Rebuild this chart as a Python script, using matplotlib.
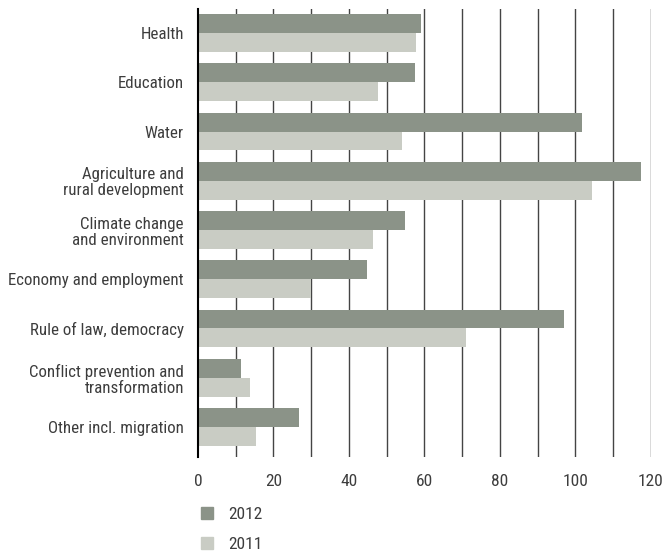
import matplotlib.pyplot as plt
import matplotlib.font_manager as fm
import numpy as np
from matplotlib.patches import Patch

categories = [
    "Health",
    "Education",
    "Water",
    "Agriculture and\nrural development",
    "Climate change\nand environment",
    "Economy and employment",
    "Rule of law, democracy",
    "Conflict prevention and\ntransformation",
    "Other incl. migration",
]
values_2012 = [59.1, 57.5, 101.7, 117.4, 54.8, 44.8, 97.0, 11.4, 26.8]
values_2011 = [57.7, 47.6, 54.0, 104.4, 46.4, 30.0, 71.0, 13.8, 15.4]
series_labels = ["2012", "2011"]

color_2012 = "#8b9388"
color_2011 = "#c9ccc4"
text_color = "#3d3d3d"

# pick a narrow face if one is around, the original uses a condensed font
names = {f.name for f in fm.fontManager.ttflist}
family = "Roboto"
for cand in ["Liberation Sans Narrow", "Roboto Condensed", "Open Sans Condensed", "Roboto"]:
    if cand in names:
        family = cand
        break
plt.rcParams["font.family"] = [family, "DejaVu Sans"]

fig = plt.figure(figsize=(6.64, 5.53), dpi=100)
ax = fig.add_axes([0.298, 0.1736, 0.682, 0.81])

pos = np.arange(len(categories))
h = 0.385
ax.barh(pos - h / 2, values_2012, h, color=color_2012, zorder=2)
ax.barh(pos + h / 2, values_2011, h, color=color_2011, zorder=2)

ax.set_ylim(8.61, -0.487)
ax.set_xlim(0, 120)
ax.set_yticks(pos)
ax.set_yticklabels(categories, fontsize=12.2, color=text_color, linespacing=1.1)
ax.set_xticks(np.arange(0, 121, 20))
ax.set_xticklabels([str(v) for v in range(0, 121, 20)], fontsize=12.5, color=text_color)
ax.tick_params(axis="both", length=0)
ax.tick_params(axis="x", pad=12)
ax.tick_params(axis="y", pad=10)

for x in range(10, 121, 10):
    ax.axvline(x, color="#444444", linewidth=1, zorder=1)

for side in ["top", "right", "bottom"]:
    ax.spines[side].set_visible(False)
ax.spines["left"].set_color("black")
ax.spines["left"].set_linewidth(1.5)
ax.spines["left"].set_zorder(3)

handles = [Patch(color=color_2012), Patch(color=color_2011)]
fig.legend(
    handles,
    series_labels,
    loc="upper left",
    bbox_to_anchor=(0.279, 0.112),
    frameon=False,
    fontsize=12.5,
    labelcolor=text_color,
    handlelength=0.7,
    handleheight=0.7,
    handletextpad=0.9,
    labelspacing=0.85,
)

fig.savefig("out.png", dpi=100)
